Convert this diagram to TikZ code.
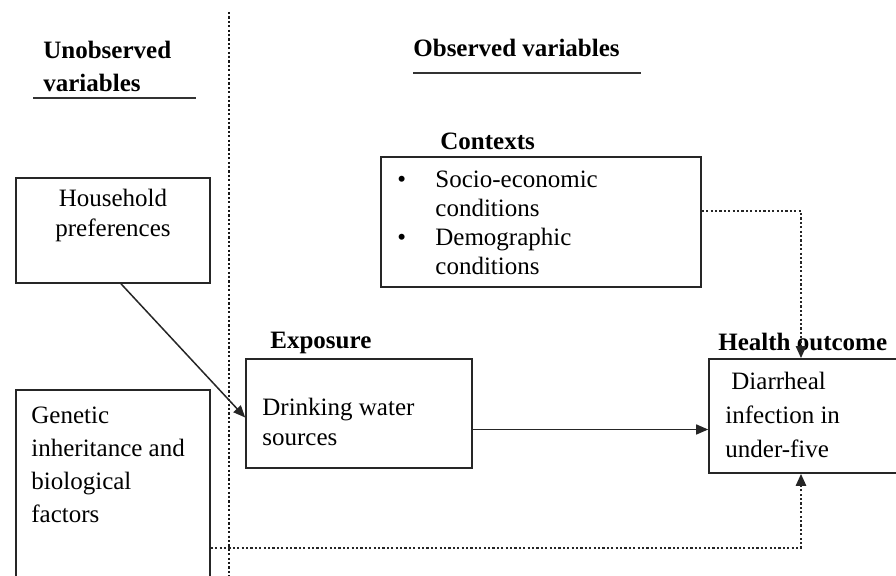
\documentclass[tikz,border=0pt]{standalone}
\usepackage{fontspec}
\setmainfont{Liberation Serif}
\usetikzlibrary{calc, positioning}
\usetikzlibrary{arrows.meta}

\begin{document}
\begin{tikzpicture}[x=0.5pt, y=-0.5pt,
  box/.style={draw=black!85, line width=0.8pt, minimum width=#1, inner sep=0pt},
  txt/.style={inner sep=0pt, align=left, font=\fontsize{12.5}{15}\selectfont},
  head/.style={inner sep=0pt, align=left, font=\fontsize{12.5}{16.5}\selectfont\bfseries},
  link/.style={line width=0.75pt, black!85, -{Triangle[length=6pt, width=5pt]}},
  dotlink/.style={link, line width=1.2pt, dash pattern=on 1.1pt off 1.1pt},
  divider/.style={line width=1.2pt, black!90, dash pattern=on 1.1pt off 1.1pt}]
\def\fs{\fontsize{12.5}{16.5}\selectfont}
\def\bul{\makebox[19pt][l]{\textbullet}}
\useasboundingbox (0,0) rectangle (896,576);

% boxes
\node[box=97pt, minimum height=52.5pt] (hh) at (113,230.5) {};
\node[box=97pt, minimum height=105pt] (gen) at (113,495) {};
\node[box=160pt, minimum height=65pt] (ctx) at (541,222) {};
\node[box=113pt, minimum height=54.5pt] (expo) at (359,413.5) {};
\node[box=95pt, minimum height=57pt] (hlth) at (804,416) {};

% texts in the boxes
\node[txt, align=center] (hhtxt) at (113,215) {Household\\preferences};
\node[txt, anchor=west, font=\fs] (gentxt) at (31,464.5)
  {Genetic\\inheritance and\\biological\\factors};
\node[txt, anchor=west, font=\fontsize{12.5}{14.5}\selectfont] (ctxtxt) at (397,222.5)
  {\bul Socio-economic\\\hspace*{19pt}conditions\\\bul Demographic\\\hspace*{19pt}conditions};
\node[txt, anchor=west] (expotxt) at (262,422) {Drinking water\\sources};
\node[txt, anchor=west, font=\fontsize{12.5}{17}\selectfont] (hlthtxt) at (725,415)
  {\hspace*{3pt}Diarrheal\\infection in\\under-five};

% headings
\node[head, anchor=west] (unobs) at (43,66.5) {Unobserved\\variables};
\node[head, anchor=west] (obs) at (413,48) {Observed variables};
\node[head, anchor=west] (ctxhead) at (440,141) {Contexts};
\node[head, anchor=west] (expohead) at (270,343) {Exposure};
\node[head, anchor=west] (hlthhead) at (718,342) {Health outcome};

\draw[line width=0.8pt, black!80] (33,98) -- (196,98);
\draw[line width=0.8pt, black!80] (413,73) -- (641,73);

% divider
\coordinate (divtop) at (229,12);
\coordinate (divbot) at (229,576);
\draw[divider] (divtop) -- (divbot);

% connectors
\draw[link] ([xshift=4pt]hh.south) -- ([yshift=-2pt]expo.west);
\draw[link] ([yshift=-8pt]expo.east) -- ([yshift=-8pt]expo.east -| hlth.west);
\draw[dotlink] ([yshift=5.5pt]ctx.east) -| ([xshift=-1.5pt]hlth.north);
\draw[dotlink] ([yshift=-26.5pt]gen.east) -| ([xshift=-1.5pt]hlth.south);
\end{tikzpicture}
\end{document}
